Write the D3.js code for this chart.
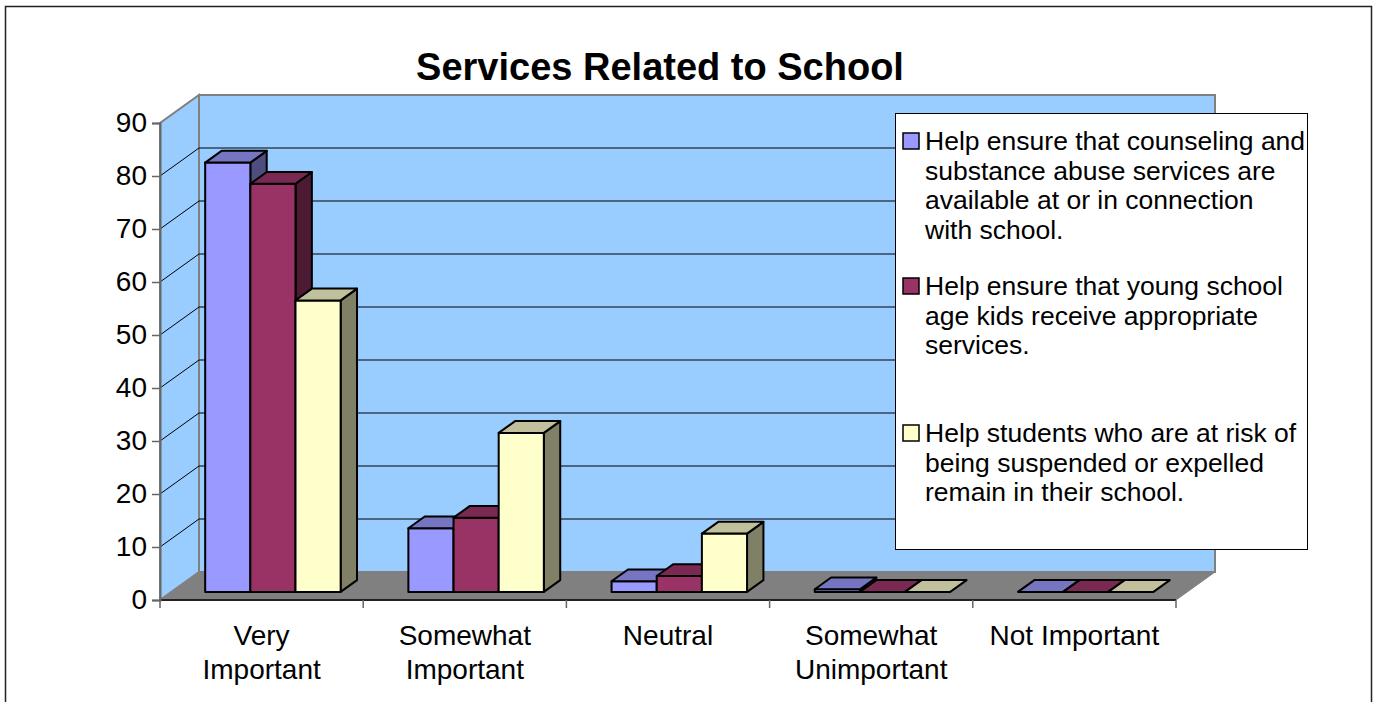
<!DOCTYPE html>
<html>
<head>
<meta charset="utf-8">
<script src="https://cdn.jsdelivr.net/npm/d3@7"></script>
<style>
  html, body { margin: 0; padding: 0; background: #fff; }
  svg { display: block; font-family: "Liberation Sans", Arial, sans-serif; }
</style>
</head>
<body>
<svg id="chart" width="1373" height="702"></svg>
<script>
// Response categories along the horizontal axis
const categories = ["Very Important", "Somewhat Important", "Neutral", "Somewhat Unimportant", "Not Important"];
const categoryLines = [["Very", "Important"], ["Somewhat", "Important"], ["Neutral"], ["Somewhat", "Unimportant"], ["Not Important"]];

// Series names (legend) and their wrapped lines
const seriesNames = [
  "Help ensure that counseling and substance abuse services are available at or in connection with school.",
  "Help ensure that young school age kids receive appropriate services.",
  "Help students who are at risk of being suspended or expelled remain in their school."
];
const seriesLines = [
  ["Help ensure that counseling and", "substance abuse services are", "available at or in connection", "with school."],
  ["Help ensure that young school", "age kids receive appropriate", "services."],
  ["Help students who are at risk of", "being suspended or expelled", "remain in their school."]
];

// Percent of respondents per category, one array per series
const counseling = [81, 12, 2, 0.5, 0];
const youngKids  = [77, 14, 3, 0, 0];
const atRisk     = [55, 30, 11, 0, 0];
const seriesValues = [counseling, youngKids, atRisk];

const yTicks = [0, 10, 20, 30, 40, 50, 60, 70, 80, 90];

// Face colours: front, top, side
const palette = [
  { front: "#9999FF", top: "#7575C2", side: "#4D4D80" },
  { front: "#993366", top: "#7A2952", side: "#4D1A33" },
  { front: "#FFFFCC", top: "#C0C09C", side: "#808066" }
];

const svg = d3.select("#chart");

// Front plane scales
const x = d3.scaleLinear().domain([0, categories.length]).range([160, 1176]);
const y = d3.scaleLinear().domain([0, 90]).range([600, 123]);

// Depth vector of the whole plot box
const DX = 39, DY = 28;
const proj = (px, v, f) => [px + f * DX, y(v) - f * DY];

// Outer frame
svg.append("rect").attr("x", 5.5).attr("y", 6.5).attr("width", 1366).attr("height", 710)
  .attr("fill", "#fff").attr("stroke", "#222").attr("stroke-width", 1.5);

// Title
svg.append("text").attr("x", 660).attr("y", 80).attr("text-anchor", "middle")
  .attr("font-size", 38).attr("font-weight", "bold").text("Services Related to School");

const x0 = x(0), x1 = x(categories.length);
const line = d3.line();

// Back wall
svg.append("path").attr("d", line([proj(x0, 0, 1), proj(x0, 90, 1), proj(x1, 90, 1), proj(x1, 0, 1)]) + "Z")
  .attr("fill", "#99CCFF").attr("stroke", "#808080").attr("stroke-width", 2);
// Left side wall
svg.append("path").attr("d", line([proj(x0, 0, 0), proj(x0, 90, 0), proj(x0, 90, 1), proj(x0, 0, 1)]) + "Z")
  .attr("fill", "#99CCFF").attr("stroke", "#808080").attr("stroke-width", 2);

// Gridlines on both walls
const gridVals = yTicks.filter(v => v > 0 && v < 90);
svg.append("g").selectAll("path").data(gridVals).join("path")
  .attr("d", v => line([proj(x0, v, 0), proj(x0, v, 1), proj(x1, v, 1)]))
  .attr("fill", "none").attr("stroke", "#000").attr("stroke-width", 1);

// Floor
svg.append("path").attr("d", line([proj(x0, 0, 0), proj(x0, 0, 1), proj(x1, 0, 1), proj(x1, 0, 0)]) + "Z")
  .attr("fill", "#808080").attr("stroke", "#808080").attr("stroke-width", 1);

// Bars
const nS = seriesValues.length;
const barW = 1 / 4.5;           // 150% gap width
const gapSide = barW * 0.75;
const f0 = 0.29, f1 = 0.71;     // depth of bar front and back faces
const barsG = svg.append("g");
categories.forEach((c, i) => {
  seriesValues.forEach((vals, j) => {
    const v = vals[i];
    const left = x(i + gapSide + j * barW);
    const right = x(i + gapSide + (j + 1) * barW);
    const col = palette[j];
    const g = barsG.append("g").attr("stroke", "#000").attr("stroke-width", 2).attr("stroke-linejoin", "round");
    const top = [proj(left, v, f0), proj(right, v, f0), proj(right, v, f1), proj(left, v, f1)];
    if (v > 0) {
      // right side face
      g.append("path").attr("d", line([proj(right, 0, f0), proj(right, v, f0), proj(right, v, f1), proj(right, 0, f1)]) + "Z")
        .attr("fill", col.side);
      // front face
      g.append("path").attr("d", line([proj(left, 0, f0), proj(left, v, f0), proj(right, v, f0), proj(right, 0, f0)]) + "Z")
        .attr("fill", col.front);
    }
    g.append("path").attr("d", line(top) + "Z").attr("fill", col.top);
  });
});

// Horizontal axis line and category ticks
const xAxis = svg.append("g");
xAxis.append("line").attr("x1", x0).attr("x2", x1).attr("y1", y(0)).attr("y2", y(0))
  .attr("stroke", "#222").attr("stroke-width", 2);
xAxis.selectAll("line.tick").data(d3.range(categories.length + 1)).join("line")
  .attr("class", "tick")
  .attr("x1", d => x(d)).attr("x2", d => x(d)).attr("y1", y(0)).attr("y2", y(0) + 8)
  .attr("stroke", "#666").attr("stroke-width", 1.5);
categoryLines.forEach((lines, i) => {
  const t = xAxis.append("text").attr("text-anchor", "middle").attr("font-size", 28)
    .attr("x", x(i + 0.5));
  lines.forEach((s, k) => t.append("tspan").attr("x", x(i + 0.5)).attr("y", 645 + k * 34).text(s));
});

// Vertical axis
const yAxis = d3.axisLeft(y).tickValues(yTicks).tickSize(8).tickPadding(5);
const yg = svg.append("g").attr("transform", `translate(${x0},0)`).call(yAxis);
yg.select(".domain").attr("stroke", "#666").attr("stroke-width", 2);
yg.selectAll(".tick line").attr("stroke", "#666").attr("stroke-width", 1.5);
yg.selectAll(".tick text").attr("font-size", 28).attr("fill", "#000")
  .attr("font-family", "Liberation Sans, Arial, sans-serif");

// Legend
const legend = svg.append("g");
legend.append("rect").attr("x", 895.5).attr("y", 113.5).attr("width", 412).attr("height", 436)
  .attr("fill", "#fff").attr("stroke", "#000").attr("stroke-width", 1);
const legendTop = [150, 295, 442];
seriesLines.forEach((lines, j) => {
  legend.append("rect").attr("x", 903).attr("y", legendTop[j] - 17).attr("width", 16).attr("height", 16)
    .attr("fill", palette[j].front).attr("stroke", "#000").attr("stroke-width", 1.5);
  const t = legend.append("text").attr("font-size", 26.5);
  lines.forEach((s, k) => t.append("tspan").attr("x", 925).attr("y", legendTop[j] + k * 29.5).text(s));
});
</script>
</body>
</html>
